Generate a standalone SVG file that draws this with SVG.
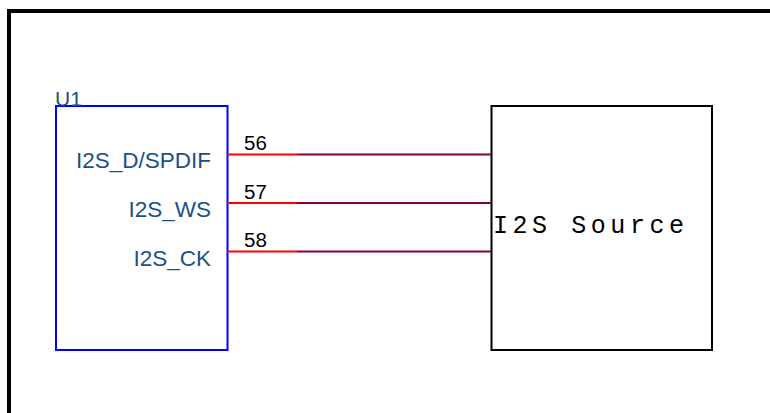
<svg xmlns="http://www.w3.org/2000/svg" width="770" height="413" viewBox="0 0 770 413">
<style>
.pin{font-family:"Liberation Sans",Arial,sans-serif;font-size:22.5px;fill:#1a4f8b}
.num{font-family:"Liberation Sans",Arial,sans-serif;font-size:20.5px;fill:#000}
.red{stroke:#ff0000;stroke-width:2;fill:none}
.wire{stroke:#800040;stroke-width:2;fill:none}
</style>
<rect width="770" height="413" fill="#fff"/>
<path d="M9,413 V11 H770" fill="none" stroke="#000" stroke-width="4"/>
<g id="U1">
<rect x="56" y="106" width="171.5" height="244" fill="none" stroke="#0000ff" stroke-width="2"/>
<text x="55" y="106" font-family="Liberation Sans, Arial, sans-serif" font-size="21" fill="#1a4f8b">U1</text>
<text class="pin" x="211" y="168" text-anchor="end">I2S_D/SPDIF</text>
<text class="pin" x="211" y="217" text-anchor="end">I2S_WS</text>
<text class="pin" x="211" y="266" text-anchor="end">I2S_CK</text>
<path class="red" d="M227,154.5 H297 M227,203 H297 M227,251.5 H297"/>
<text class="num" x="244" y="150">56</text>
<text class="num" x="244" y="198.5">57</text>
<text class="num" x="244" y="247">58</text>
</g>
<g id="I2S_Source">
<rect x="491.5" y="106" width="220.5" height="244" fill="none" stroke="#000" stroke-width="2"/>
<text x="493" y="233" font-family="Liberation Mono, Courier New, monospace" font-size="25" fill="#000" textLength="191" lengthAdjust="spacing">I2S Source</text>
</g>
<g id="connectors">
<path class="wire" d="M297,154.5 H491 M297,203 H491 M297,251.5 H491"/>
</g>
</svg>
